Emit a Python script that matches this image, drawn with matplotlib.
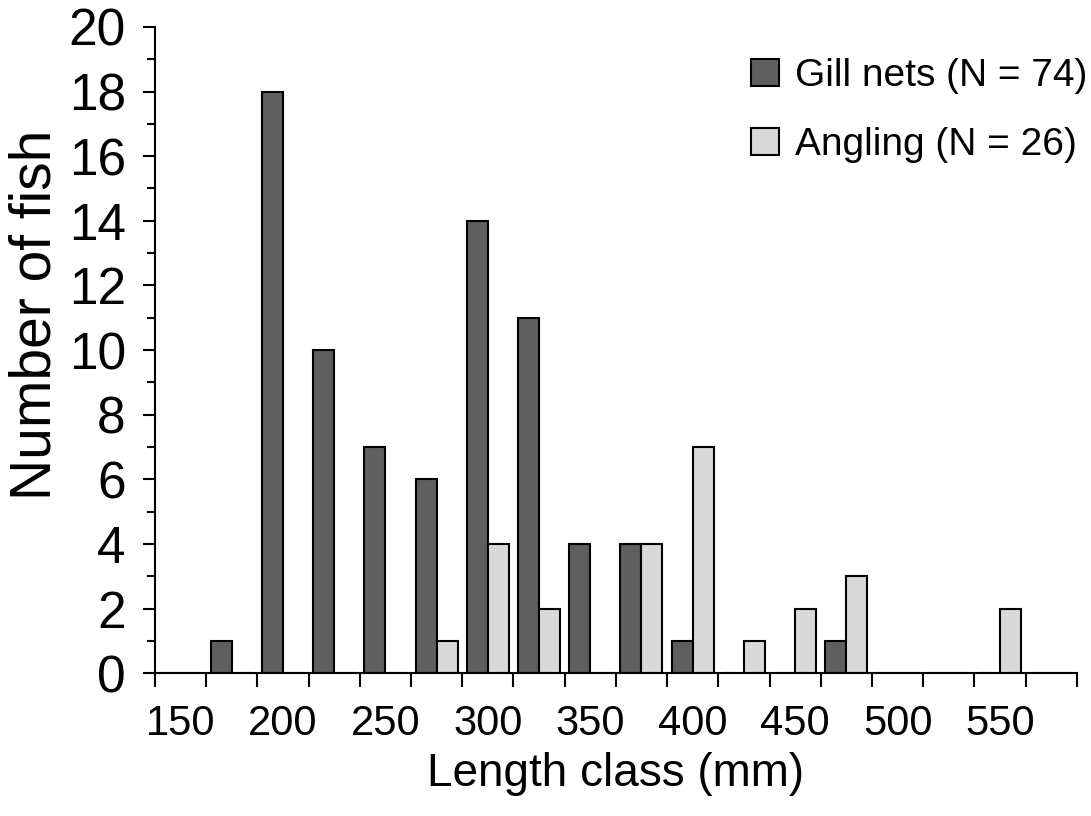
import numpy as np
import matplotlib.pyplot as plt
from matplotlib.ticker import FixedLocator, MultipleLocator

# length classes (mm), one per bin; only every other one is labelled
length_classes = [150, 175, 200, 225, 250, 275, 300, 325, 350, 375,
                  400, 425, 450, 475, 500, 525, 550, 575]
gill_nets = [0, 1, 18, 10, 7, 6, 14, 11, 4, 4, 1, 0, 0, 1, 0, 0, 0, 0]
angling = [0, 0, 0, 0, 0, 1, 4, 2, 0, 4, 7, 1, 2, 3, 0, 0, 2, 0]
series_labels = ['Gill nets (N = 74)', 'Angling (N = 26)']

plt.rcParams['font.family'] = ['Liberation Sans', 'DejaVu Sans']

fig = plt.figure(figsize=(10.91, 8.16), dpi=100)
ax = fig.add_axes([0.142, 0.175, 0.845, 0.792])

x = np.arange(len(length_classes))
w = 0.41
ax.bar(x - w/2, gill_nets, w, color='#5f5f5f', edgecolor='black',
       linewidth=1.5, label=series_labels[0])
ax.bar(x + w/2, angling, w, color='#d9d9d9', edgecolor='black',
       linewidth=1.5, label=series_labels[1])

ax.set_xlim(-0.5, len(length_classes) - 0.5)
ax.set_ylim(0, 20)

# category boundaries get tick marks, labels sit at category centres
ax.set_xticks(x[::2])
ax.set_xticklabels([str(v) for v in length_classes[::2]])
ax.xaxis.set_minor_locator(FixedLocator(np.arange(-0.5, len(length_classes), 1)))
ax.tick_params(axis='x', which='major', length=0, pad=22, labelsize=30)
ax.tick_params(axis='x', which='minor', length=10, width=1.5, direction='out')

ax.set_yticks(np.arange(0, 21, 2))
ax.yaxis.set_minor_locator(MultipleLocator(1))
ax.tick_params(axis='y', which='major', length=9, width=1.5, labelsize=37, pad=12)
ax.tick_params(axis='y', which='minor', length=6, width=1.5)

for s in ['top', 'right']:
    ax.spines[s].set_visible(False)
for s in ['left', 'bottom']:
    ax.spines[s].set_linewidth(1.5)

ax.set_xlabel('Length class (mm)', fontsize=33, labelpad=6)
ax.set_ylabel('Number of fish', fontsize=41)
ax.yaxis.set_label_coords(-0.100, 0.555)

fig.legend(loc='upper right', bbox_to_anchor=(1087/1091, 1 - 58/816),
           frameon=False, borderaxespad=0, borderpad=0,
           fontsize=28, handlelength=0.72, handleheight=0.72,
           handletextpad=0.4, labelspacing=0.85)

fig.savefig('out.png', dpi=100)
